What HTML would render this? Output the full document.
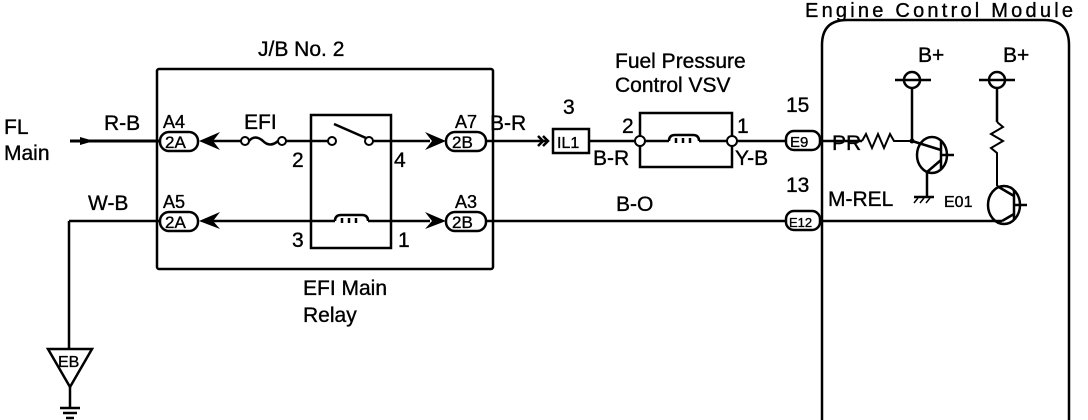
<!DOCTYPE html>
<html><head><meta charset="utf-8"><style>
html,body{margin:0;padding:0;background:#fff;}
svg{display:block;}
text{font-family:"Liberation Sans",sans-serif;font-size:21px;fill:#000;stroke:#000;stroke-width:0.35;}
</style></head><body>
<svg width="1088" height="420" viewBox="0 0 1088 420" xmlns="http://www.w3.org/2000/svg">
<g stroke="#000" stroke-width="2.5" fill="none">
<rect x="157" y="69" width="336" height="200" rx="2"/>
<rect x="311" y="115" width="80" height="133"/>
<line x1="70" y1="141" x2="160" y2="141" stroke-width="3"/>
<line x1="69" y1="221" x2="160" y2="221"/>
<line x1="69" y1="221" x2="69" y2="349"/>
<polygon points="48,349 92,349 70,387"/>
<line x1="70" y1="387" x2="70" y2="408"/>
<line x1="60" y1="408" x2="80" y2="408"/>
<line x1="63" y1="413" x2="77" y2="413"/>
<line x1="66" y1="418" x2="74" y2="418"/>
<rect x="160" y="132" width="38" height="19" rx="9"/>
<rect x="160" y="212" width="38" height="19" rx="9"/>
<rect x="446" y="132" width="40" height="19" rx="9"/>
<rect x="446" y="212" width="40" height="19" rx="9"/>
<line x1="212" y1="141" x2="241" y2="141"/>
<path d="M249,141 Q255,134 263,141 Q270,148 278,141"/>
<line x1="286" y1="141" x2="328" y2="141"/>
<line x1="334" y1="124" x2="366" y2="138"/>
<line x1="373" y1="141" x2="430" y2="141"/>
<line x1="212" y1="221" x2="335" y2="221"/>
<path d="M335,221 Q335,215 341,215 L362,215 Q368,215 368,221"/>
<path d="M342,218 v5 M349,218 v5 M356,218 v5"/>
<line x1="368" y1="221" x2="430" y2="221"/>
<line x1="486" y1="141" x2="546" y2="141"/>
<rect x="553" y="129" width="36" height="24"/>
<line x1="589" y1="141" x2="639" y2="141"/>
<rect x="640" y="113" width="92" height="54"/>
<line x1="486" y1="221" x2="786" y2="221"/>
<line x1="737" y1="141" x2="786" y2="141"/>
<rect x="786" y="131" width="34" height="19" rx="8"/>
<rect x="786" y="211" width="34" height="19" rx="8"/>
<path d="M822,430 L822,45 Q822,20 847,20 L1044,20 Q1069,20 1069,45 L1069,430"/>
<line x1="820" y1="141" x2="862" y2="141"/>
<polyline points="862,141 866,134 872,148 878,134 884,148 890,134 894,141 912,141" stroke-width="2"/>
<line x1="895" y1="80" x2="931" y2="80"/>
<circle cx="912" cy="80" r="8"/>
<line x1="912" y1="88" x2="912" y2="141"/>
<ellipse cx="932" cy="155" rx="15" ry="18"/>
<line x1="941" y1="140" x2="941" y2="170"/>
<line x1="941" y1="155" x2="954" y2="155"/>
<line x1="912" y1="141" x2="941" y2="150"/>
<line x1="927" y1="172" x2="941" y2="160"/>
<line x1="927" y1="172" x2="927" y2="196"/>
<line x1="914" y1="197" x2="934" y2="197"/>
<line x1="979" y1="80" x2="1015" y2="80"/>
<circle cx="997" cy="80" r="8"/>
<line x1="997" y1="88" x2="997" y2="122"/>
<polyline points="997,122 1003,127 991,134 1003,141 991,148 997,153 997,186" stroke-width="2"/>
<ellipse cx="1004" cy="205" rx="16" ry="19"/>
<line x1="1014" y1="190" x2="1014" y2="220"/>
<line x1="1014" y1="205" x2="1027" y2="205"/>
<line x1="997" y1="186" x2="1014" y2="196"/>
<line x1="820" y1="221" x2="1002" y2="221"/>
<line x1="1002" y1="221" x2="1014" y2="214"/>
</g>
<g fill="#000">
<polygon points="80,137 94,141 80,145"/>
<polygon points="220,132 199,141 220,150 213,141"/>
<polygon points="220,212 199,221 220,229 213,221"/>
<polygon points="425,132 446,141 425,150 432,141"/>
<polygon points="425,212 446,221 425,229 432,221"/>
<circle cx="912" cy="141" r="2.5"/>
</g>
<g fill="#fff" stroke="#000" stroke-width="2">
<circle cx="245" cy="141" r="4"/>
<circle cx="282" cy="141" r="4"/>
<circle cx="332" cy="141" r="4"/>
<circle cx="369" cy="141" r="4"/>
<circle cx="640" cy="141" r="5"/>
<circle cx="732" cy="141" r="5"/>
</g>
<g stroke="#000" stroke-width="2.5" fill="none">
<line x1="645" y1="141" x2="669" y2="141"/>
<path d="M669,141 Q669,135 675,135 L693,135 Q699,135 699,141"/>
<path d="M676,138 v5 M683,138 v5 M690,138 v5"/>
<line x1="699" y1="141" x2="727" y2="141"/>
<polyline points="543,136 548,141 543,146"/>
<polyline points="538,136 543,141 538,146"/>
<path d="M918,198 l-4,5 M924,198 l-4,5 M930,198 l-4,5" stroke-width="1.5"/>
</g>
<text x="258" y="56">J/B No. 2</text>
<text x="4" y="134">FL</text>
<text x="4" y="160">Main</text>
<text x="104" y="130">R-B</text>
<text x="88" y="210">W-B</text>
<text x="163" y="128" style="font-size:18px">A4</text>
<text x="163" y="208" style="font-size:18px">A5</text>
<text x="455" y="128" style="font-size:18px">A7</text>
<text x="455" y="208" style="font-size:18px">A3</text>
<text x="165" y="148" style="font-size:17px">2A</text>
<text x="165" y="228" style="font-size:17px">2A</text>
<text x="452" y="148" style="font-size:17px">2B</text>
<text x="452" y="228" style="font-size:17px">2B</text>
<text x="244" y="129">EFI</text>
<text x="292" y="167">2</text>
<text x="394" y="167">4</text>
<text x="292" y="247">3</text>
<text x="398" y="247">1</text>
<text x="303" y="295">EFI Main</text>
<text x="303" y="322">Relay</text>
<text x="490" y="130">B-R</text>
<text x="563" y="114">3</text>
<text x="557" y="148" style="font-size:16px">IL1</text>
<text x="615" y="68">Fuel Pressure</text>
<text x="615" y="92">Control VSV</text>
<text x="622" y="133">2</text>
<text x="737" y="133">1</text>
<text x="593" y="165">B-R</text>
<text x="735" y="165">Y-B</text>
<text x="616" y="211">B-O</text>
<text x="786" y="112">15</text>
<text x="786" y="192">13</text>
<text x="790" y="147" style="font-size:15px">E9</text>
<text x="789" y="227" style="font-size:13px">E12</text>
<text x="805" y="17" style="font-size:20px" textLength="268">Engine Control Module</text>
<text x="918" y="62">B+</text>
<text x="1003" y="62">B+</text>
<text x="832" y="150">PR</text>
<text x="828" y="206">M-REL</text>
<text x="944" y="207" style="font-size:16px">E01</text>
<text x="58" y="367" style="font-size:16px">EB</text>
</svg>
</body></html>
